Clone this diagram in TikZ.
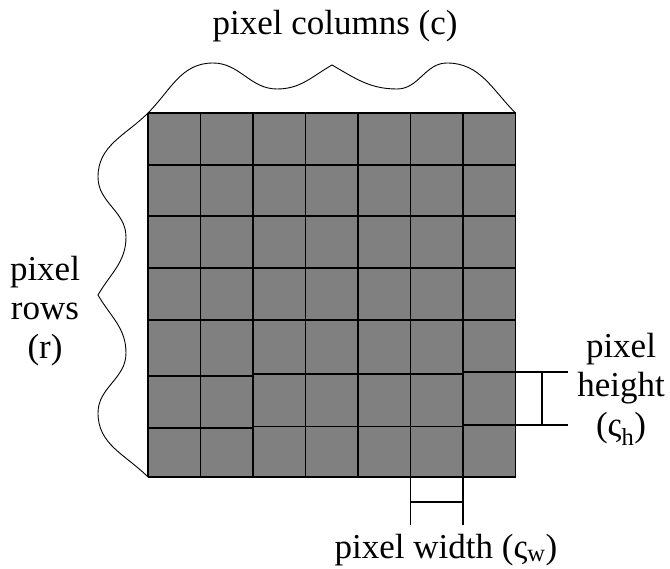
\documentclass[tikz,border=0pt]{standalone}
\usepackage{fontspec}
\setmainfont{Liberation Serif}
\begin{document}
\begin{tikzpicture}[x=1pt,y=1pt,
  lbl/.style={font=\fontsize{35}{39.5}\selectfont, inner sep=0pt, anchor=base},
  gridline/.style={line width=1.3pt, black},
  bracecurve/.style={line width=0.9pt, black},
  dimline/.style={line width=1.3pt, black}]
\useasboundingbox (0,0) rectangle (670,-569);
% grid corners
\coordinate (TL) at (148,-113);
\coordinate (TR) at (515.5,-113);
\coordinate (BL) at (148,-477);
\coordinate (BR) at (515.5,-477);
\fill[black!50] (TL) rectangle (BR);
% vertical lines
\foreach \x in {148,200.5,253,305.5,358,410.5,463,515.5}
  \draw[gridline] (\x,-113) -- (\x,-477);
% horizontal lines
\foreach \y in {113,165,216,268,320,477}
  \draw[gridline] (148,-\y) -- (515.5,-\y);
\draw[gridline] (148,-376) -- (253,-376);
\draw[gridline] (253,-374) -- (463,-374);
\draw[gridline] (463,-372) -- (515.5,-372);
\draw[gridline] (148,-428) -- (253,-428);
\draw[gridline] (253,-426.5) -- (463,-426.5);
\draw[gridline] (463,-425) -- (515.5,-425);
% top brace
\draw[bracecurve] (TL) to[out=45,in=180] (213,-63) to[out=0,in=180] (277,-89)
  to[out=0,in=210] (332,-65) to[out=-30,in=180] (397,-89)
  to[out=0,in=180] (447,-63) to[out=0,in=135] (TR);
% left brace
\draw[bracecurve] (TL) to[out=225,in=90] (98,-177) to[out=-90,in=90] (126,-237)
  to[out=-90,in=60] (98,-295) to[out=-60,in=90] (126,-353)
  to[out=-90,in=90] (98,-413) to[out=-90,in=135] (BL);
% height marker
\coordinate (h1) at (515.5,-372);
\coordinate (h2) at (515.5,-425);
\coordinate (h1e) at (568,-372);
\coordinate (h2e) at (568,-425);
\coordinate (hm1) at (542,-372);
\coordinate (hm2) at (542,-425);
\draw[dimline] (h1) -- (h1e);
\draw[dimline] (h2) -- (h2e);
\draw[dimline] (hm1) -- (hm2);
% width marker
\coordinate (w1) at (410.5,-477);
\coordinate (w2) at (463,-477);
\coordinate (w1e) at (410.5,-525);
\coordinate (w2e) at (463,-525);
\coordinate (wm1) at (410.5,-502);
\coordinate (wm2) at (463,-502);
\draw[dimline] (w1) -- (w1e);
\draw[dimline] (w2) -- (w2e);
\draw[dimline] (wm1) -- (wm2);
% labels
\node[lbl] (cols) at (335,-35) {pixel columns (c)};
\node[lbl] (rowsA) at (45,-281) {pixel};
\node[lbl] (rowsB) at (45,-320) {rows};
\node[lbl] (rowsC) at (45,-359) {(r)};
\node[lbl] (hA) at (621,-358) {pixel};
\node[lbl] (hB) at (621,-397) {height};
\node[lbl] (hC) at (621,-437) {(ς\textsubscript{h})};
\node[lbl] (wlab) at (446,-558) {pixel width (ς\textsubscript{w})};
\end{tikzpicture}
\end{document}
